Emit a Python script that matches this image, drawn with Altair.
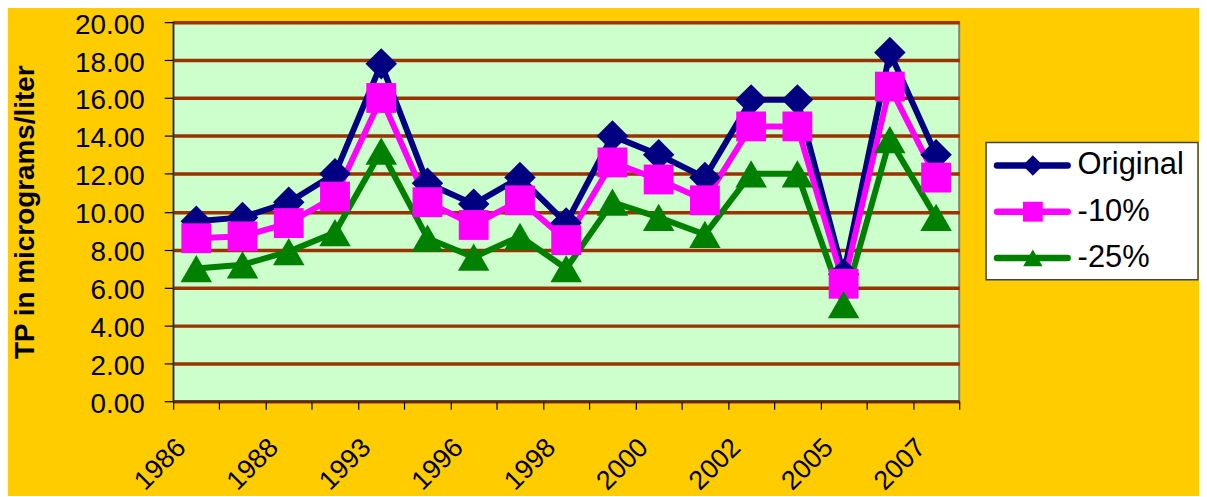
import altair as alt
import pandas as pd

years = ['1986', '1987', '1988', '1991', '1993', '1995', '1996', '1997', '1998',
         '1999', '2000', '2001', '2002', '2003', '2005', '2006', '2007']
original = [9.5, 9.7, 10.5, 12.0, 17.8, 11.5, 10.4, 11.8, 9.4, 14.0, 13.0, 11.8, 15.9, 15.9, 6.7, 18.4, 13.0]
minus10 = [8.6, 8.7, 9.4, 10.8, 16.0, 10.5, 9.3, 10.6, 8.5, 12.6, 11.7, 10.6, 14.5, 14.5, 6.2, 16.6, 11.8]
minus25 = [7.0, 7.2, 7.9, 8.9, 13.2, 8.6, 7.6, 8.7, 7.0, 10.5, 9.7, 8.8, 12.0, 12.0, 5.1, 13.8, 9.7]
series_names = ['Original', '-10%', '-25%']
series_colors = ['#000080', '#FF00FF', '#008000']
series_shapes = ['diamond', 'square', 'triangle-up']
y_ticks = [0, 2, 4, 6, 8, 10, 12, 14, 16, 18, 20]

rows = []
for name, vals in zip(series_names, [original, minus10, minus25]):
    for i, (yr, v) in enumerate(zip(years, vals)):
        rows.append({'year': yr, 'idx': i, 'series': name, 'value': v})
df = pd.DataFrame(rows)
legend_df = pd.DataFrame({'series': series_names})

n = len(years)
js_years = '[' + ','.join("'%s'" % y for y in years) + ']'
label_expr = "(datum.value %% 2 == 0 && datum.value < %d) ? %s[datum.value] : ''" % (n, js_years)

x_enc = alt.X('xpos:Q',
              scale=alt.Scale(domain=[0, n], nice=False, zero=False),
              axis=alt.Axis(values=list(range(n + 1)), labelExpr=label_expr, title=None,
                            grid=False, labelAngle=-45, labelAlign='right', labelBaseline='middle',
                            labelFontSize=27, labelFont='Liberation Sans', labelColor='black',
                            labelPadding=34, labelOffset=8, labelOverlap=False,
                            tickSize=8, tickColor='black', tickWidth=1.2,
                            domainColor='#333333', domainWidth=1.5))
y_enc = alt.Y('value:Q',
              scale=alt.Scale(domain=[0, 20], nice=False, zero=True),
              axis=alt.Axis(values=y_ticks, format='.2f', title='TP in micrograms/liter',
                            titleFontSize=28, titleFont='Liberation Sans', titleFontWeight='bold',
                            titleColor='black', titlePadding=35,
                            labelFontSize=28, labelFont='Liberation Sans', labelColor='black',
                            labelPadding=20, labelOffset=3, tickSize=9, tickColor='black',
                            tickWidth=1.2, domainColor='#333333', domainWidth=1.5,
                            grid=True, gridColor='#993300', gridWidth=3.5, gridOpacity=1))

color_scale = alt.Scale(domain=series_names, range=series_colors)

base = alt.Chart(df).transform_calculate(xpos='datum.idx + 0.5')

lines = base.mark_line(strokeWidth=6).encode(
    x=x_enc, y=y_enc,
    stroke=alt.Stroke('series:N', scale=color_scale, legend=None),
    order=alt.Order('idx:Q'),
)

point_layers = []
for name, col, shp, sz in zip(series_names, series_colors, series_shapes, [1000, 900, 1000]):
    point_layers.append(
        base.transform_filter(alt.datum.series == name)
        .mark_point(filled=True, opacity=1, shape=shp, size=sz, color=col, strokeWidth=0)
        .encode(x=x_enc, y=y_enc)
    )

main = alt.layer(lines, *point_layers)

# ---- legend box drawn beside the plot ----
leg_y = alt.Y('series:N', scale=alt.Scale(type='point', domain=series_names, range=[144, 237], padding=0),
              axis=None)
leg_color = alt.Color('series:N', scale=color_scale, legend=None)

leg_box = alt.Chart(pd.DataFrame({'k': [0]})).mark_rect(
    fill='white', stroke='#444444', strokeWidth=1.5
).encode(x=alt.value(817), x2=alt.value(1030), y=alt.value(121), y2=alt.value(259))

leg_line = alt.Chart(legend_df).mark_rule(strokeWidth=6.5, strokeCap='round').encode(
    x=alt.value(828), x2=alt.value(899), y=leg_y, color=leg_color
)
leg_marker = alt.Chart(legend_df).mark_point(filled=True, opacity=1, strokeWidth=0).encode(
    x=alt.value(864), y=leg_y, color=leg_color,
    shape=alt.Shape('series:N', scale=alt.Scale(domain=series_names, range=series_shapes), legend=None),
    size=alt.Size('series:N', scale=alt.Scale(domain=series_names, range=[420, 380, 560]), legend=None),
)
leg_text = alt.Chart(legend_df).mark_text(
    align='left', baseline='middle', fontSize=31, font='Liberation Sans', color='black'
).encode(x=alt.value(909), y=leg_y, text='series:N')

legend = alt.layer(leg_box, leg_line, leg_marker, leg_text)

chart = alt.layer(main, legend).resolve_scale(
    y='independent', shape='independent', size='independent'
).properties(
    width=790, height=381,
    background='#FFCC00',
    padding={'left': 3, 'top': 2, 'right': 0, 'bottom': 0},
).configure_view(
    fill='#CCFFCC', stroke='#808080', strokeWidth=2
)

chart.save('out.html', embed_options={'renderer': 'svg', 'actions': False})
